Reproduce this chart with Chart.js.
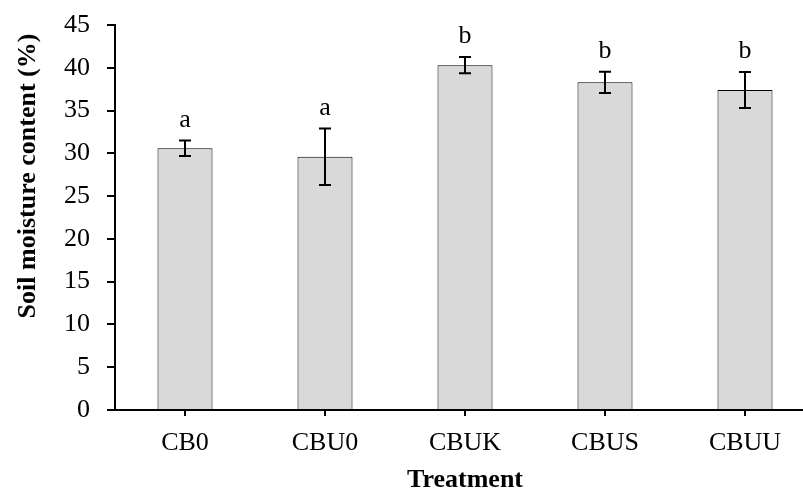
<!DOCTYPE html>
<html>
<head>
<meta charset="utf-8">
<script src="https://cdn.jsdelivr.net/npm/chart.js@4"></script>
<style>
html,body{margin:0;padding:0;overflow:hidden;background:#fff;}
canvas{display:block;}
</style>
</head>
<body>
<canvas id="c" width="820" height="491"></canvas>
<script>
const categories = ["CB0", "CBU0", "CBUK", "CBUS", "CBUU"];
const moisture = [30.6, 29.6, 40.3, 38.3, 37.4];
const stdErr = [0.9, 3.3, 0.95, 1.25, 2.1];
const letters = ["a", "a", "b", "b", "b"];
const yTicks = [0, 5, 10, 15, 20, 25, 30, 35, 40, 45];
const yTitle = "Soil moisture content (%)";
const xTitle = "Treatment";

const FONT = "'Liberation Serif', 'Times New Roman', serif";

const errorBarPlugin = {
  id: 'errorBars',
  afterDatasetsDraw(chart) {
    const ctx = chart.ctx;
    const meta = chart.getDatasetMeta(0);
    const y = chart.scales.y;
    ctx.save();
    ctx.strokeStyle = '#000';
    ctx.lineWidth = 2;
    meta.data.forEach((bar, i) => {
      const x = bar.x;
      const top = y.getPixelForValue(moisture[i] + stdErr[i]);
      const bot = y.getPixelForValue(moisture[i] - stdErr[i]);
      const cap = 6;
      ctx.beginPath();
      ctx.moveTo(x, top); ctx.lineTo(x, bot);
      ctx.moveTo(x - cap, top); ctx.lineTo(x + cap, top);
      ctx.moveTo(x - cap, bot); ctx.lineTo(x + cap, bot);
      ctx.stroke();
      ctx.fillStyle = '#000';
      ctx.font = '26px ' + FONT;
      ctx.textAlign = 'center';
      ctx.textBaseline = 'alphabetic';
      ctx.fillText(letters[i], x, top - 14);
    });
    ctx.restore();
  },
  afterDraw(chart) {
    const ctx = chart.ctx;
    ctx.save();
    ctx.fillStyle = '#000';
    ctx.font = 'bold 26px ' + FONT;
    ctx.translate(35, 176);
    ctx.rotate(-Math.PI / 2);
    ctx.textAlign = 'center';
    ctx.textBaseline = 'alphabetic';
    ctx.fillText(yTitle, 0, 0);
    ctx.restore();
  }
};

new Chart(document.getElementById('c'), {
  type: 'bar',
  data: {
    labels: categories,
    datasets: [{
      data: moisture,
      backgroundColor: '#d9d9d9',
      borderColor: '#000000',
      borderWidth: 1,
      barPercentage: 0.393,
      categoryPercentage: 1.0
    }]
  },
  options: {
    responsive: false,
    animation: false,
    devicePixelRatio: 1,
    layout: { padding: { top: 25, right: 5, left: 0, bottom: 0 } },
    plugins: { legend: { display: false }, tooltip: { enabled: false } },
    scales: {
      x: {
        grid: { display: true, drawOnChartArea: false, drawTicks: true, tickLength: 6, offset: false, color: '#000', lineWidth: 2 },
        border: { display: true, color: '#000', width: 2 },
        ticks: { color: '#000', font: { family: FONT, size: 26 }, padding: 12 },
        title: { display: true, text: xTitle, color: '#000', font: { family: FONT, size: 26, weight: 'bold', lineHeight: 1 }, padding: { top: 0, bottom: -2 } },
        afterFit(scale) { scale.height = 81; scale.paddingLeft = 0; scale.paddingRight = 0; }
      },
      y: {
        min: 0, max: 45,
        afterBuildTicks(scale) { scale.ticks = yTicks.map(v => ({ value: v })); },
        grid: { display: true, drawOnChartArea: false, drawTicks: true, tickLength: 8, color: '#000', lineWidth: 2 },
        border: { display: true, color: '#000', width: 2 },
        ticks: { color: '#000', font: { family: FONT, size: 26 }, padding: 17 },
        title: { display: false },
        afterFit(scale) { scale.width = 115; scale.paddingTop = 0; scale.paddingBottom = 0; }
      }
    }
  },
  plugins: [errorBarPlugin]
});
</script>
</body>
</html>
